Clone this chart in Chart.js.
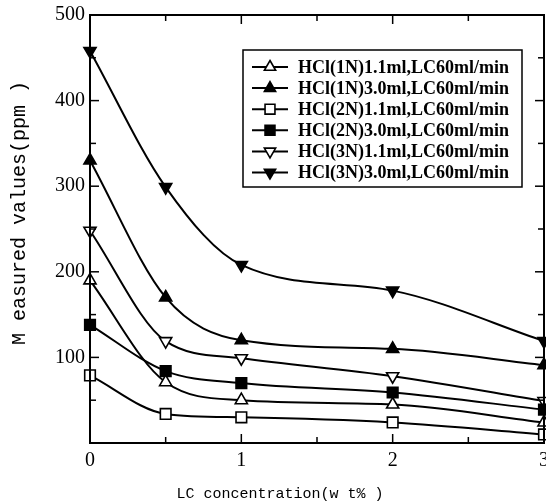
<!DOCTYPE html>
<html>
<head>
<meta charset="utf-8">
<script src="https://cdn.jsdelivr.net/npm/chart.js@4.4.1/dist/chart.umd.min.js"></script>
<style>
  html, body { margin: 0; padding: 0; background: #fff; }
  #wrap { width: 546px; height: 504px; position: relative; }
</style>
</head>
<body>
<div id="wrap"><canvas id="c" width="546" height="504"></canvas></div>
<script>
// ---- data ----
const xValues = [0, 0.5, 1, 2, 3];
const seriesLabels = [
  'HCl(1N)1.1ml,LC60ml/min',
  'HCl(1N)3.0ml,LC60ml/min',
  'HCl(2N)1.1ml,LC60ml/min',
  'HCl(2N)3.0ml,LC60ml/min',
  'HCl(3N)1.1ml,LC60ml/min',
  'HCl(3N)3.0ml,LC60ml/min'
];
const hcl1N_11 = [190, 71, 50, 45, 24];
const hcl1N_30 = [330, 170, 120, 110, 91];
const hcl2N_11 = [79, 34, 30, 24, 10];
const hcl2N_30 = [138, 84, 70, 59, 39];
const hcl3N_11 = [248, 119, 99, 78, 49];
const hcl3N_30 = [458, 299, 208, 178, 119];
const xTickValues = [0, 1, 2, 3];
const xMinorTicks = [0.5, 1.5, 2.5];
const yTickValues = [0, 100, 200, 300, 400, 500];
const yMinorTicks = [50, 150, 250, 350, 450];
const xTitle = 'LC concentration(w t% )';
const yTitle = 'M easured values(ppm )';

// ---- styles ----
const markerStyles = [
  { style: 'triangle', rot: 0,   fill: '#ffffff', r: 7 },
  { style: 'triangle', rot: 0,   fill: '#000000', r: 7 },
  { style: 'rect',     rot: 0,   fill: '#ffffff', r: 7.5 },
  { style: 'rect',     rot: 0,   fill: '#000000', r: 7.5 },
  { style: 'triangle', rot: 180, fill: '#ffffff', r: 7 },
  { style: 'triangle', rot: 180, fill: '#000000', r: 7 }
];
const seriesValues = [hcl1N_11, hcl1N_30, hcl2N_11, hcl2N_30, hcl3N_11, hcl3N_30];

const datasets = seriesValues.map((vals, i) => ({
  label: seriesLabels[i],
  data: xValues.map((x, j) => ({ x: x, y: vals[j] })),
  borderColor: '#000',
  borderWidth: 2,
  backgroundColor: markerStyles[i].fill,
  pointBackgroundColor: markerStyles[i].fill,
  pointBorderColor: '#000',
  pointBorderWidth: 1.6,
  pointStyle: markerStyles[i].style,
  pointRotation: markerStyles[i].rot,
  pointRadius: markerStyles[i].r,
  pointHoverRadius: markerStyles[i].r,
  cubicInterpolationMode: 'monotone',
  clip: false
}));

const framePlugin = {
  id: 'frame',
  afterDraw(chart) {
    const ctx = chart.ctx;
    const a = chart.chartArea;
    const xs = chart.scales.x, ys = chart.scales.y;
    ctx.save();
    ctx.strokeStyle = '#000';
    ctx.lineWidth = 2;
    ctx.strokeRect(a.left, a.top, a.right - a.left, a.bottom - a.top);
    ctx.lineWidth = 1.5;
    const tick = (x1, y1, x2, y2) => { ctx.beginPath(); ctx.moveTo(x1, y1); ctx.lineTo(x2, y2); ctx.stroke(); };
    yTickValues.forEach(v => { const p = ys.getPixelForValue(v); tick(a.left, p, a.left + 9, p); tick(a.right, p, a.right - 9, p); });
    yMinorTicks.forEach(v => { const p = ys.getPixelForValue(v); tick(a.left, p, a.left + 6, p); tick(a.right, p, a.right - 6, p); });
    xTickValues.forEach(v => { const p = xs.getPixelForValue(v); tick(p, a.bottom, p, a.bottom - 9); tick(p, a.top, p, a.top + 9); });
    xMinorTicks.forEach(v => { const p = xs.getPixelForValue(v); tick(p, a.bottom, p, a.bottom - 6); tick(p, a.top, p, a.top + 6); });

    // axis titles
    ctx.fillStyle = '#000';
    ctx.textAlign = 'center';
    ctx.textBaseline = 'middle';
    ctx.font = '15px "Liberation Mono", monospace';
    ctx.fillText(xTitle, 280, 494);
    ctx.save();
    ctx.translate(20, 213);
    ctx.rotate(-Math.PI / 2);
    ctx.font = '20px "Liberation Mono", monospace';
    ctx.fillText(yTitle, 0, 0);
    ctx.restore();

    // legend box
    const bx = 243, by = 50, bw = 279, bh = 137;
    ctx.fillStyle = '#fff';
    ctx.fillRect(bx, by, bw, bh);
    ctx.lineWidth = 1.5;
    ctx.strokeStyle = '#000';
    ctx.strokeRect(bx, by, bw, bh);
    chart.data.datasets.forEach((ds, i) => {
      const y = 67 + i * 21.1;
      ctx.strokeStyle = '#000';
      ctx.lineWidth = 2;
      tick(252, y, 288, y);
      ctx.fillStyle = ds.pointBackgroundColor;
      ctx.lineWidth = 1.6;
      Chart.helpers.drawPoint(ctx, {
        pointStyle: ds.pointStyle, rotation: ds.pointRotation,
        radius: ds.pointStyle === 'rect' ? 7 : 6.5, borderWidth: 1.6
      }, 270, y);
      ctx.fillStyle = '#000';
      ctx.font = 'bold 18px "Liberation Serif", serif';
      ctx.textAlign = 'left';
      ctx.textBaseline = 'middle';
      ctx.fillText(ds.label, 298, y + 1);
    });
    ctx.restore();
  }
};

new Chart(document.getElementById('c'), {
  type: 'line',
  data: { datasets: datasets },
  options: {
    responsive: false,
    animation: false,
    events: [],
    layout: { autoPadding: false, padding: { top: 15, right: 2, left: 0, bottom: 0 } },
    plugins: { legend: { display: false }, tooltip: { enabled: false } },
    scales: {
      x: {
        type: 'linear', min: 0, max: 3,
        grid: { display: false, drawTicks: false },
        border: { display: false },
        ticks: {
          stepSize: 1, padding: 6, color: '#000',
          font: { family: '"Liberation Serif", serif', size: 20 },
          maxRotation: 0,
          callback: v => (xTickValues.includes(v) ? String(v) : '')
        },
        afterFit(s) { s.height = 61; s.paddingLeft = 0; s.paddingRight = 0; }
      },
      y: {
        type: 'linear', min: 0, max: 500,
        grid: { display: false, drawTicks: false },
        border: { display: false },
        ticks: {
          stepSize: 100, padding: 5, color: '#000',
          font: { family: '"Liberation Serif", serif', size: 20 },
          callback: v => (v === 0 ? '' : String(v))
        },
        afterFit(s) { s.width = 90; s.paddingTop = 0; s.paddingBottom = 0; }
      }
    }
  },
  plugins: [framePlugin]
});
</script>
</body>
</html>
